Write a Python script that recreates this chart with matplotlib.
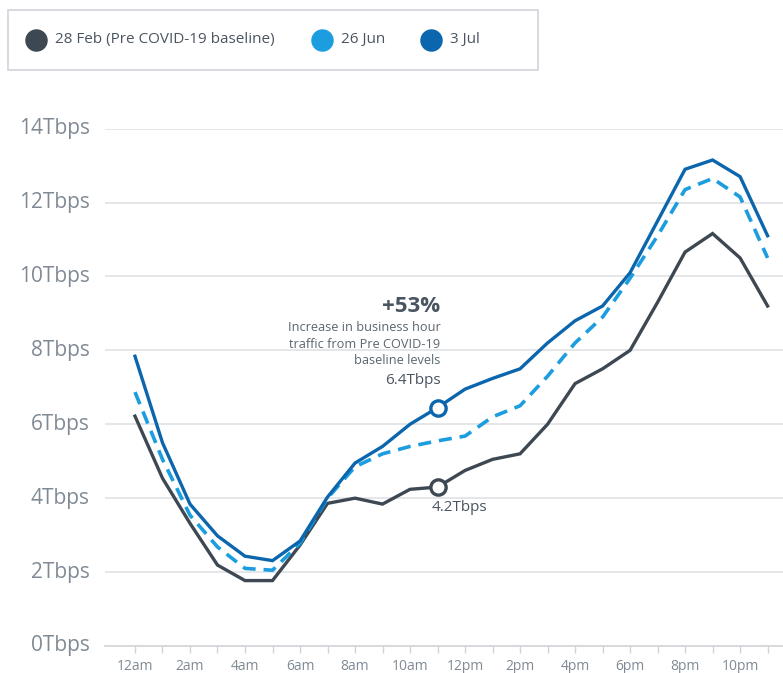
import matplotlib
matplotlib.use("Agg")
import matplotlib.pyplot as plt
from matplotlib.patches import Rectangle

plt.rcParams['font.family'] = ['Open Sans', 'DejaVu Sans']

hours = list(range(24))
tick_labels = ['12am', '2am', '4am', '6am', '8am', '10am', '12pm', '2pm', '4pm', '6pm', '8pm', '10pm']
y_ticks = [0, 2, 4, 6, 8, 10, 12, 14]

feb28 = [6.22, 4.54, 3.32, 2.19, 1.77, 1.77, 2.73, 3.86, 4.0, 3.84, 4.24, 4.3,
         4.75, 5.05, 5.2, 6.0, 7.1, 7.5, 8.0, 9.3, 10.66, 11.16, 10.5, 9.2]
jun26 = [6.87, 5.05, 3.54, 2.68, 2.1, 2.05, 2.78, 4.0, 4.85, 5.2, 5.4, 5.55,
         5.68, 6.2, 6.5, 7.3, 8.2, 8.9, 9.95, 11.1, 12.35, 12.65, 12.15, 10.5]
jul3 = [7.84, 5.5, 3.84, 2.98, 2.43, 2.31, 2.84, 4.03, 4.95, 5.4, 6.0, 6.45,
        6.95, 7.24, 7.5, 8.2, 8.8, 9.2, 10.1, 11.5, 12.9, 13.15, 12.7, 11.1]

series_names = ['28 Feb (Pre COVID-19 baseline)', '26 Jun', '3 Jul']
c_feb = '#3d4852'
c_jun = '#1b9de0'
c_jul = '#0b66ad'
text_gray = '#4a5561'
axis_gray = '#808a94'

W, H = 783, 673
fig = plt.figure(figsize=(W / 100, H / 100), dpi=100)
ax = fig.add_axes([105 / W, 1 - 646 / H, (783 - 105) / W, (646 - 128.6) / H])
ax.set_xlim(-1.09, 23.56)
ax.set_ylim(0, 14)

for v in y_ticks[1:]:
    ax.axhline(v, color='#dfe2e6', lw=1.2, zorder=1)
for s in ['top', 'right', 'left']:
    ax.spines[s].set_visible(False)
ax.spines['bottom'].set_color('#cfd3d7')
ax.spines['bottom'].set_linewidth(1.2)

ax.set_yticks(y_ticks)
ax.set_yticklabels([f'{v}Tbps' for v in y_ticks], fontsize=15, color=axis_gray,
                   va='center')
ax.tick_params(axis='y', length=0, pad=11)
ax.set_xticks(hours, minor=True)
ax.set_xticks(hours[::2])
ax.set_xticklabels(tick_labels, fontsize=10, color=axis_gray)
ax.tick_params(axis='x', which='both', length=5, color='#cfd3d7', width=1, pad=4)

ax.plot(hours, feb28, color=c_feb, lw=2.4, zorder=3, solid_joinstyle='miter')
ax.plot(hours, jun26, color=c_jun, lw=2.6, zorder=3, dashes=(3.6, 2.2))
ax.plot(hours, jul3, color=c_jul, lw=2.4, zorder=4, solid_joinstyle='miter')

ax.plot([11], [jul3[11]], 'o', ms=11, mfc='white', mec=c_jul, mew=2.4, zorder=5)
ax.plot([11], [feb28[11]], 'o', ms=11, mfc='white', mec=c_feb, mew=2.4, zorder=5)

pt = (11, jul3[11])
ax.annotate('+53%', xy=pt, xytext=(3, 101), textcoords='offset pixels',
            ha='right', va='center', fontsize=16, fontweight='bold', color=text_gray)
for i, line in enumerate(['Increase in business hour', 'traffic from Pre COVID-19', 'baseline levels']):
    ax.annotate(line, xy=pt, xytext=(3, 80 - i * 16.5), textcoords='offset pixels',
                ha='right', va='center', fontsize=9.2, color='#5b6670')
ax.annotate('6.4Tbps', xy=pt, xytext=(3, 27), textcoords='offset pixels',
            ha='right', va='center', fontsize=11, color=text_gray)
ax.annotate('4.2Tbps', xy=(11, feb28[11]), xytext=(-6, -20), textcoords='offset pixels',
            ha='left', va='center', fontsize=11, color=text_gray)

# legend box
lax = fig.add_axes([0, 0, 1, 1])
lax.set_xlim(0, W)
lax.set_ylim(H, 0)
lax.axis('off')
lax.add_patch(Rectangle((8, 10), 530, 60, fill=False, ec='#d3d7dc', lw=1.3))
leg_x = [36, 322, 431]
leg_c = [c_feb, c_jun, c_jul]
for x, c, name in zip(leg_x, leg_c, series_names):
    lax.scatter([x], [40], s=230, color=c, zorder=3)
    lax.text(x + 19, 40, name, ha='left', va='center', fontsize=11, color=text_gray)

fig.savefig('out.png', dpi=100)
